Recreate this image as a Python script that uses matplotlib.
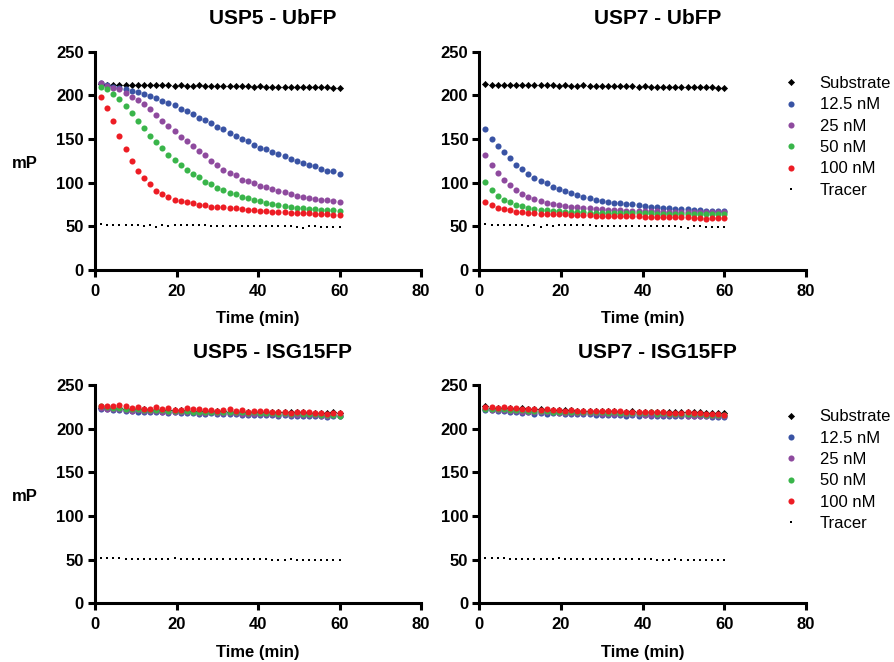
import numpy as np
import matplotlib
matplotlib.use("Agg")
import matplotlib.pyplot as plt
from matplotlib.lines import Line2D

plt.rcParams['font.family'] = ['Liberation Sans', 'DejaVu Sans']

# sampling times (min)
time = [1.5, 3, 4.5, 6, 7.5, 9, 10.5, 12, 13.5, 15, 16.5, 18, 19.5, 21, 22.5, 24,
        25.5, 27, 28.5, 30, 31.5, 33, 34.5, 36, 37.5, 39, 40.5, 42, 43.5, 45,
        46.5, 48, 49.5, 51, 52.5, 54, 55.5, 57, 58.5, 60]

labels = ['Substrate', '12.5 nM', '25 nM', '50 nM', '100 nM', 'Tracer']
colors = ['black', '#3953A4', '#8E4A9E', '#39B54A', '#ED1C24', 'black']

# controls
substrate_ub = [213, 212, 212, 212, 212, 212, 211.5, 212, 211.5, 211.5, 212, 211.5, 211, 211.5,
                211, 211, 211.5, 211, 211, 211, 211, 211, 210.5, 211, 210.5, 210, 210.5, 210,
                210, 210, 209.5, 210, 209.5, 210, 209.5, 209.5, 209.5, 209.5, 209, 209]
tracer_ub = [52.5, 52, 51.5, 51, 51.5, 51, 51, 50.5, 51, 49, 51, 50.5, 52, 51, 51.5, 51, 51,
             51, 50.5, 50.5, 50.5, 50.5, 50.5, 50.5, 50.5, 50.5, 50.5, 50, 50, 50, 50, 50,
             49.5, 48.5, 50, 50, 49.5, 49.5, 49, 49]
substrate5_isg = [224, 223.5, 223, 223.5, 222.5, 222.5, 222, 222, 221.5, 221.5, 221.5, 221, 221,
                  221, 220.5, 220.5, 220.5, 220, 220, 220, 220, 219.5, 219.5, 219.5, 219.5, 219,
                  219, 219, 219, 218.5, 218.5, 219.5, 219, 219.5, 218, 218, 218, 217.5, 218.5, 217.5]
substrate7_isg = [225.5, 224, 224, 224, 223.5, 223, 223.5, 222.5, 222, 222.5, 221.5, 221.5,
                  221.5, 221, 221, 220.5, 220.5, 220, 220.5, 220, 220, 220, 219.5, 219.5, 220,
                  219.5, 219, 219, 219, 219, 219, 219, 218.5, 218.5, 218.5, 218.5, 218, 218, 218, 218]
tracer_isg = [52, 52, 51.5, 51.5, 51, 50.5, 51, 51, 51, 50.5, 51, 51, 51.5, 51, 50.5, 51, 51,
              50.5, 50.5, 51, 50.5, 50.5, 50.5, 50.5, 50.5, 50.5, 50.5, 50.5, 50, 50, 50, 50.5,
              49.5, 50, 50, 50, 50, 49.5, 49.5, 49.5]

# USP5 - UbFP
usp5_ub_12 = [213.7, 212, 210, 208, 207.6, 205, 204, 201, 199, 197, 194, 191, 188.5, 184.7,
              182, 179, 174.4, 171.8, 168.7, 163.7, 161, 157, 153.8, 150.4, 147.7, 143, 140,
              138.5, 135, 132.8, 130.5, 126.7, 124.8, 122.9, 120.2, 119.5, 116, 113.4, 113.4, 109.5]
usp5_ub_25 = [213.7, 211, 208.8, 206.9, 203, 198.5, 194.7, 189.7, 184.4, 177.5, 171, 164.5,
              159, 152.7, 147.3, 141.6, 136.3, 131.3, 124.8, 120.2, 114.5, 111, 108.4, 103.4,
              101.5, 99.6, 96.6, 94.7, 92.4, 90.1, 88.9, 86.6, 84.7, 84, 82, 81.3, 80.2, 80.2, 79.4, 77.5]
usp5_ub_50 = [210, 207, 201.5, 195.8, 187.8, 179.4, 171, 163, 153.8, 147, 139.3, 132, 125.6,
              120.2, 114.5, 110, 106.5, 101.1, 98.1, 94.3, 91.2, 88.2, 86.6, 84, 82, 79.8, 79,
              77.1, 75.6, 74.4, 72.9, 72.1, 71, 70.6, 69.8, 69.8, 69.1, 68.7, 68.3, 67.2]
usp5_ub_100 = [198.5, 185.9, 171, 153.4, 138.2, 125.2, 113.7, 105, 98.1, 90.5, 87.4, 84, 80.2,
               79, 77.5, 76.3, 74.8, 74.4, 72.5, 72.5, 72.1, 71.4, 70.6, 69.5, 69.1, 68.3, 67.2,
               67.2, 66.8, 66.8, 66, 65.6, 65.6, 64.9, 64.9, 64.5, 64.1, 63.7, 63.4, 63.4]

# USP7 - UbFP
usp7_ub_12 = [161.5, 149.6, 142.4, 134.7, 127.9, 120.6, 116, 110.3, 105.7, 101.9, 99.2, 95.4,
              93.1, 90.1, 88.2, 85.9, 83.6, 82.4, 80.2, 79, 77.9, 77.1, 76.7, 75.6, 75.2, 74,
              73.7, 72.5, 72.5, 71.4, 71, 70.2, 69.5, 69.5, 68.7, 68.3, 67.9, 67.9, 67.9, 67.9]
usp7_ub_25 = [131.7, 119.8, 110.7, 103, 97, 91.6, 87, 83.2, 80.9, 79, 77.1, 75.6, 74.8, 73.3,
              72.5, 71.8, 70.6, 70.6, 69.8, 69.8, 69.1, 68.7, 68.3, 67.9, 67.9, 67.6, 67.6, 67.2,
              67.2, 66.8, 66.8, 66.8, 66.6, 66.6, 66.4, 66.4, 66.4, 66.2, 66.2, 66.4]
usp7_ub_50 = [100.4, 91.6, 84.4, 80.2, 77.5, 74.8, 72.9, 71, 70.2, 68.7, 68.7, 67.9, 67.2,
              66.8, 66.4, 66.4, 66.4, 65.6, 65.6, 65.6, 65.3, 65.3, 65, 65, 65, 64.9, 64.9, 64.9,
              64.5, 64.5, 64.5, 64.5, 64.5, 64.5, 64.2, 64.2, 64.2, 64, 64.5, 64.5]
usp7_ub_100 = [78.2, 74.4, 70.6, 69.5, 68.3, 66.4, 66.4, 65.6, 65.3, 64.5, 64.5, 64.1, 63.7,
               63.7, 63.4, 63, 62.8, 62.6, 62.4, 62.2, 62, 62, 61.8, 61.6, 61.5, 61.3, 61.2, 61,
               61, 60.8, 60.6, 60.5, 60.3, 60.2, 60, 59.8, 58.4, 60, 59.8, 60]

# USP5 - ISG15FP
usp5_isg_12 = [222.5, 222, 221, 221.5, 220, 220, 219.5, 219.5, 219, 219, 218.5, 218, 218.5,
               217.5, 218, 217.5, 217, 217, 217.5, 216.5, 216.5, 217, 216.5, 216, 216, 216,
               215.5, 216, 215.5, 215, 215.5, 215, 215, 215, 214.5, 214.5, 214, 213, 214.5, 214.5]
usp5_isg_25 = [223.5, 223, 222, 222.5, 221.5, 220.5, 221, 220, 220, 220, 219.5, 219, 219.5,
               218.5, 219, 218.5, 218, 218, 218.5, 217.5, 217.5, 218, 217.5, 217, 217, 217,
               216.5, 217, 216.5, 216, 216.5, 216, 216, 216, 215.5, 215.5, 215, 214.5, 215.5, 215]
usp5_isg_50 = [225.5, 224.5, 223.5, 224, 223, 222.5, 222, 221.5, 221, 221.5, 221, 220.5, 220.5,
               220, 220.5, 219.5, 219.5, 219, 219.5, 218.5, 219, 219.5, 218.5, 218.5, 218,
               218.5, 218, 218, 217.5, 217, 217.5, 217, 217.5, 217, 216.5, 216.5, 216, 215.5, 216, 215]
usp5_isg_100 = [226, 225.5, 225.5, 226.5, 225.5, 224, 224.5, 223, 223, 224.5, 222.5, 223.5,
                221.5, 221.5, 223.5, 222, 222.5, 221, 221.5, 220, 221, 222, 220.5, 221, 219.5,
                220.5, 220.5, 220, 219.5, 218.5, 219.5, 218, 218.5, 218.5, 219, 218, 217.5,
                216.5, 218, 217.5]

# USP7 - ISG15FP
usp7_isg_12 = [221.5, 221, 220, 220.5, 219.5, 219, 217.5, 218.5, 217, 217.5, 217, 218, 217.5,
               217, 217, 216.5, 216.5, 217, 216, 216, 216, 216, 215.5, 215, 215.5, 215, 215.5,
               214, 215, 215, 214.5, 214, 214.5, 214.5, 214, 214, 214, 213.5, 213, 213.5]
usp7_isg_25 = [222, 221.5, 221, 221, 220.5, 220, 219.5, 219.5, 219, 219, 218.5, 218.5, 218,
               218, 218, 217.5, 217.5, 217.5, 217.5, 217, 217, 217, 216.5, 216.5, 216.5, 216.5,
               216, 216, 216, 216, 215.5, 215.5, 215.5, 215, 215, 215, 215, 214.5, 214.5, 214.5]
usp7_isg_50 = [223, 222.5, 222, 222.5, 221.5, 221, 221, 220.5, 220, 220, 220, 219.5, 219.5,
               219, 219.5, 219, 219, 218.5, 218.5, 218.5, 218, 218.5, 218, 218, 218, 217.5,
               217.5, 218.5, 217, 217.5, 216.5, 217, 217, 216.5, 216.5, 216.5, 216, 215.5, 215.5, 215.5]
usp7_isg_100 = [225, 224.5, 224, 224.5, 223.5, 223.5, 223, 222, 222, 221.5, 222, 221, 221,
                220, 221, 220.5, 220.5, 220, 220.5, 220, 220, 220, 220, 219.5, 219, 219.5, 219,
                219, 218.5, 218.5, 218, 218, 218, 218.5, 217.5, 218, 217, 217, 217, 216]

panels = [
    ('USP5 - UbFP', [substrate_ub, usp5_ub_12, usp5_ub_25, usp5_ub_50, usp5_ub_100, tracer_ub]),
    ('USP7 - UbFP', [substrate_ub, usp7_ub_12, usp7_ub_25, usp7_ub_50, usp7_ub_100, tracer_ub]),
    ('USP5 - ISG15FP', [substrate5_isg, usp5_isg_12, usp5_isg_25, usp5_isg_50, usp5_isg_100, tracer_isg]),
    ('USP7 - ISG15FP', [substrate7_isg, usp7_isg_12, usp7_isg_25, usp7_isg_50, usp7_isg_100, tracer_isg]),
]

# axes rectangles in figure fractions
rects = [
    [0.1063, 0.5921, 0.3647, 0.3298],
    [0.5361, 0.5921, 0.3654, 0.3298],
    [0.1063, 0.0887, 0.3647, 0.3298],
    [0.5361, 0.0887, 0.3654, 0.3298],
]

def style(label):
    if label == 'Substrate':
        return dict(marker='D', ms=3.1, mew=0.5)
    if label == 'Tracer':
        return dict(marker='s', ms=1.8, mew=0)
    return dict(marker='o', ms=4.4, mew=0)


fig = plt.figure(figsize=(8.94, 6.62), dpi=100)

for ix, (title, series) in enumerate(panels):
    ax = fig.add_axes(rects[ix])
    handles = []
    for lab, col, vals in zip(labels, colors, series):
        st = style(lab)
        ax.plot(time, vals, ls='none', color=col, mec=col, clip_on=False, **st)
        handles.append(Line2D([], [], ls='none', color=col, mec=col, **st))

    ax.set_xlim(0, 80)
    ax.set_ylim(0, 250)
    ax.set_xticks([0, 20, 40, 60, 80])
    ax.set_yticks([0, 50, 100, 150, 200, 250])
    for side in ['top', 'right']:
        ax.spines[side].set_visible(False)
    for side in ['left', 'bottom']:
        ax.spines[side].set_linewidth(2.2)
    ax.tick_params(width=2.2, length=5, labelsize=12, pad=3)
    ax.tick_params(axis='x', pad=5)
    for t in ax.get_xticklabels() + ax.get_yticklabels():
        t.set_fontweight('bold')

    ax.set_xlabel('Time (min)', fontsize=12, fontweight='bold', labelpad=9)
    ax.text(0.545, 1.15, title, transform=ax.transAxes, ha='center', va='center',
            fontsize=15, fontweight='bold')

    if ix % 2 == 0:
        ax.set_ylabel('mP', fontsize=12, fontweight='bold', rotation=0,
                      ha='center', va='center')
        ax.yaxis.set_label_coords(-0.215, 0.49)
    else:
        ax.legend(handles, labels, loc='upper left', bbox_to_anchor=(0.93, 0.888),
                  frameon=False, fontsize=12, handlelength=1.0, handletextpad=1.2,
                  labelspacing=0.38, borderpad=0, borderaxespad=0, markerscale=1.0)

fig.savefig('out.png', dpi=100)
